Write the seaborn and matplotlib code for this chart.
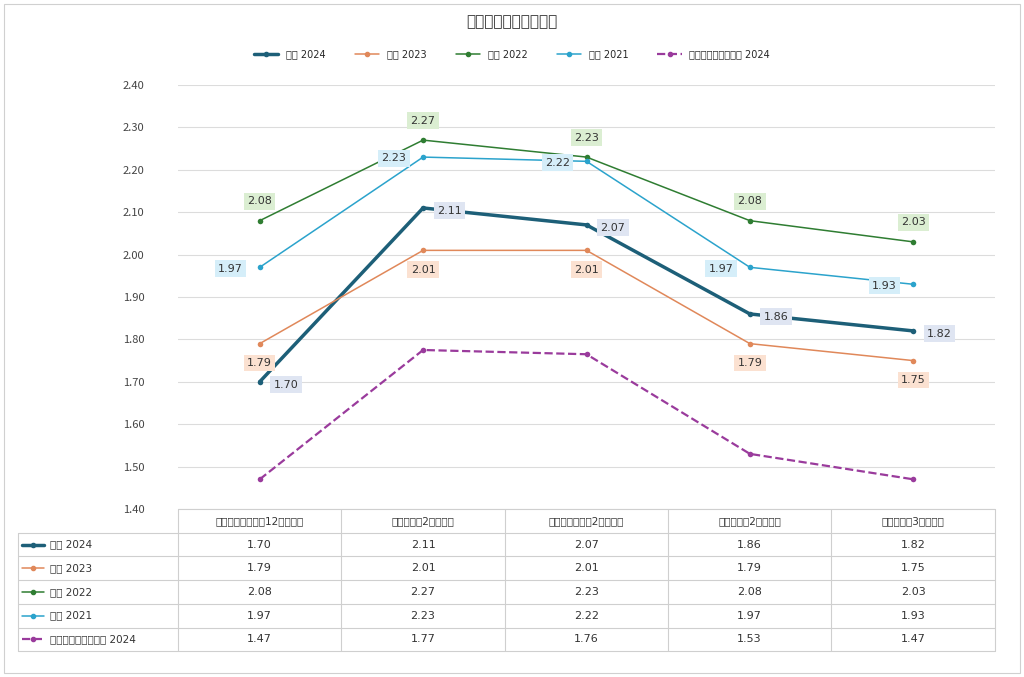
import pandas as pd
import seaborn as sns
import matplotlib.pyplot as plt
from matplotlib.lines import Line2D

plt.rcParams["font.family"] = ["Noto Sans CJK JP"]

# --- Data ---
categories = ["校長会調査倍率（12月中旬）", "応募倍率（2月初旬）", "最終応募倍率（2月中旬）",
              "受検倍率（2月下旬）", "合格倍率（3月初旬）"]
series_names = ["青山 2024", "青山 2023", "青山 2022", "青山 2021", "進学指導重点校平均 2024"]
aoyama_2024 = [1.70, 2.11, 2.07, 1.86, 1.82]
aoyama_2023 = [1.79, 2.01, 2.01, 1.79, 1.75]
aoyama_2022 = [2.08, 2.27, 2.23, 2.08, 2.03]
aoyama_2021 = [1.97, 2.23, 2.22, 1.97, 1.93]
avg_2024 = [1.47, 1.775, 1.765, 1.53, 1.47]
avg_2024_labels = ["1.47", "1.77", "1.76", "1.53", "1.47"]
values = [aoyama_2024, aoyama_2023, aoyama_2022, aoyama_2021, avg_2024]

colors = ["#1d5f78", "#e0885a", "#2f7d32", "#2ba3cc", "#9a3b9c"]
widths = [2.5, 1.1, 1.1, 1.1, 1.6]
styles = ["-", "-", "-", "-", "--"]
box_colors = ["#dfe5f2", "#fbe1d1", "#dbeed2", "#d5eef9", None]

rows = []
for name, vals in zip(series_names, values):
    for i, v in enumerate(vals):
        rows.append({"series": name, "x": i, "value": v})
df = pd.DataFrame(rows)

W, H = 1024, 677
fig = plt.figure(figsize=(W / 100, H / 100), dpi=100)
fig.patch.set_facecolor("white")

def px(x0, y0, x1, y1):
    return [x0 / W, 1 - y1 / H, (x1 - x0) / W, (y1 - y0) / H]

# outer border
fig.add_artist(plt.Rectangle((4 / W, 4 / H), 1016 / W, 669 / H, fill=False, ec="#d0d0d0",
                             lw=0.8, transform=fig.transFigure))

ax = fig.add_axes(px(178, 85, 995, 509))
sns.set_style("white")
for name, c, lw, ls in zip(series_names, colors, widths, styles):
    sub = df[df["series"] == name]
    sns.lineplot(data=sub, x="x", y="value", ax=ax, color=c, lw=lw, linestyle=ls,
                 marker="o", markersize=4, markeredgewidth=0)
ax.set_xlim(-0.5, 4.5)
ax.set_ylim(1.40, 2.40)
ax.set_yticks([1.40 + 0.1 * i for i in range(11)])
ax.set_yticklabels([f"{1.40 + 0.1 * i:.2f}" for i in range(11)], fontsize=8, color="#444")
ax.set_xticks([])
ax.set_xlabel("")
ax.set_ylabel("")
ax.grid(axis="y", color="#dcdcdc", lw=0.8)
for s in ax.spines.values():
    s.set_visible(False)
ax.tick_params(axis="y", length=0, pad=24)

offsets = [(10, -2), (0, -14), (0, 14), (-12, -1)]
for k in range(4):
    for i, v in enumerate(values[k]):
        dx, dy = offsets[k]
        if k == 0 and i == 0:
            dx, dy = (10, -2)
        ha = "left" if dx > 0 else ("right" if dx < 0 else "center")
        ax.annotate(f"{v:.2f}", (i, v), xytext=(dx, dy), textcoords="offset points",
                    ha=ha, va="center", fontsize=8, color="#333",
                    bbox=dict(boxstyle="square,pad=0.3", fc=box_colors[k], ec="none"))

fig.text(0.5, 1 - 22 / H, "倍率推移（青山高校）", ha="center", va="center", fontsize=11, color="#333")
handles = [Line2D([0], [0], color=c, lw=lw, ls=ls, marker="o", markersize=3)
           for c, lw, ls in zip(colors, widths, styles)]
fig.legend(handles, series_names, loc="center", bbox_to_anchor=(0.5, 1 - 54 / H), ncol=5,
           frameon=False, fontsize=7, handlelength=2.5, columnspacing=3)

# --- table ---
tx = [18, 178, 341, 505, 668, 831, 995]
ty = [509 + 23.7 * i for i in range(7)]
tab = fig.add_axes(px(0, 0, W, H))
tab.set_xlim(0, W)
tab.set_ylim(H, 0)
tab.axis("off")
for i, x in enumerate(tx):
    tab.plot([x, x], [ty[1] if i == 0 else ty[0], ty[-1]], color="#cfcfcf", lw=0.8)
for j, y in enumerate(ty):
    tab.plot([tx[1] if j == 0 else tx[0], tx[-1]], [y, y], color="#cfcfcf", lw=0.8)
for i, cat in enumerate(categories):
    tab.text((tx[i + 1] + tx[i + 2]) / 2, (ty[0] + ty[1]) / 2, cat, ha="center", va="center",
             fontsize=7.5, color="#333")
for r, (name, vals) in enumerate(zip(series_names, values)):
    yc = (ty[r + 1] + ty[r + 2]) / 2
    tab.plot([22, 44], [yc, yc], color=colors[r], lw=widths[r], ls=styles[r])
    tab.plot([33], [yc], "o", color=colors[r], markersize=3)
    tab.text(50, yc, name, ha="left", va="center", fontsize=7.5, color="#333")
    labels = avg_2024_labels if r == 4 else [f"{v:.2f}" for v in vals]
    for i, lab in enumerate(labels):
        tab.text((tx[i + 1] + tx[i + 2]) / 2, yc, lab, ha="center", va="center",
                 fontsize=8, color="#333")

fig.savefig("out.png", dpi=100, facecolor="white")
plt.close()
